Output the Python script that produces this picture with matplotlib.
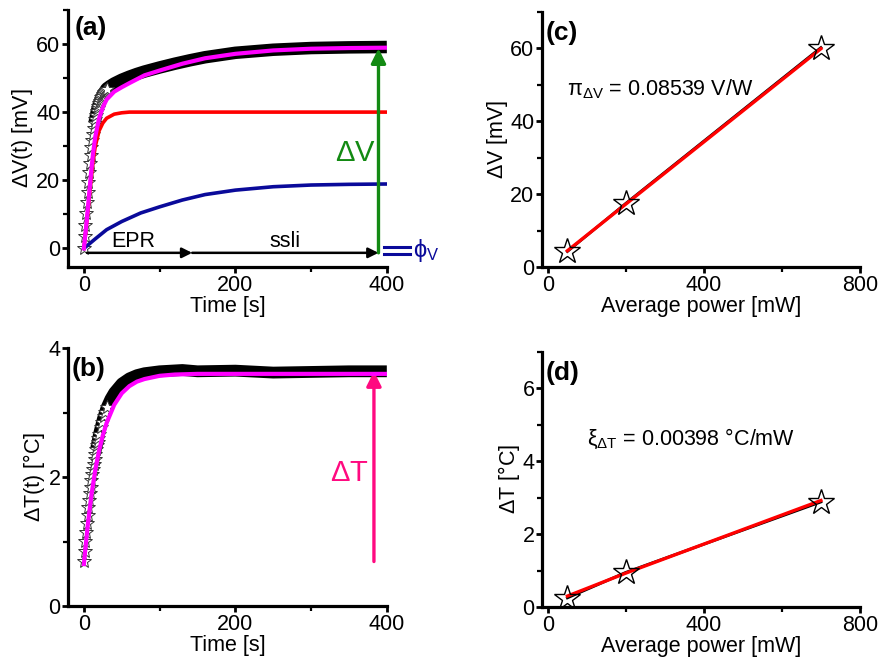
import matplotlib.pyplot as plt
from matplotlib.ticker import MultipleLocator

plt.rcParams['font.family'] = ['Liberation Sans', 'DejaVu Sans']
plt.rcParams['mathtext.fontset'] = 'custom'
plt.rcParams['mathtext.rm'] = 'Liberation Sans'
plt.rcParams['mathtext.it'] = 'Liberation Sans:italic'
plt.rcParams['mathtext.default'] = 'regular'

# (a) voltage transient: measured stars, dense band, fit and its two parts
a_star_t = [0, 1, 2, 3, 4, 5, 6, 7, 8, 9, 10, 11, 12, 13, 14, 15,
            16, 17, 18, 19, 20, 21, 22, 23, 24, 25, 26, 27, 28, 29, 30]
a_star_v = [0, 3.5, 7, 10.3, 13.5, 16.5, 19.5, 22.3, 25, 27.5, 29.8, 31.8,
            33.6, 35.2, 36.7, 38, 39.2, 40.2, 41.1, 41.9, 42.6, 43.2, 43.8,
            44.3, 44.8, 45.2, 45.6, 46.0, 46.3, 46.6, 46.9]
a_band_t = [14, 17, 20, 25, 30, 35, 40, 50, 60, 70, 80, 100, 120, 140, 160,
            200, 250, 300, 350, 400]
a_band_v = [36.7, 40.2, 42.6, 45.2, 46.9, 47.7, 48.4, 49.5, 50.4, 51.2,
            51.9, 53.1, 54.2, 55.2, 56.1, 57.4, 58.3, 58.8, 59.0, 59.1]
a_fit_t = [0, 3, 6, 9, 12, 15, 20, 25, 30, 40, 50, 60, 80, 100, 130, 160,
           200, 250, 300, 350, 400]
a_fit_v = [0, 6.6, 13.7, 21.2, 27.8, 32.8, 38.2, 41.4, 43.7, 46.0, 47.3,
           48.5, 50.8, 52.2, 54.2, 55.8, 57.1, 58.1, 58.6, 58.8, 58.9]
a_epr_t = [0, 3, 6, 9, 12, 15, 20, 25, 30, 40, 50, 60, 400]
a_epr_v = [0, 6, 12.5, 19.5, 25.5, 30, 34.5, 36.8, 38.2, 39.4, 39.8, 40, 40]
a_ssli_t = [0, 15, 30, 50, 75, 100, 130, 160, 200, 250, 300, 350, 400]
a_ssli_v = [0, 2.8, 5.5, 7.9, 10.4, 12.2, 14.2, 15.8, 17.1, 18.1, 18.6,
            18.8, 18.9]

# (b) temperature transient
b_star_t = [0, 1, 2, 3, 4, 5, 6, 7, 8, 9, 10, 11, 12, 13, 14, 15, 16, 17,
            18, 19, 20, 22, 24, 26, 28, 30]
b_star_v = [0.70, 0.86, 1.01, 1.15, 1.28, 1.41, 1.53, 1.64, 1.75, 1.85,
            1.95, 2.04, 2.13, 2.21, 2.28, 2.36, 2.43, 2.49, 2.55, 2.61,
            2.67, 2.77, 2.86, 2.94, 3.01, 3.08]
b_band_t = [16, 20, 25, 30, 35, 40, 50, 60, 70, 80, 100, 130, 150, 200,
            250, 300, 350, 400]
b_band_v = [2.43, 2.67, 2.90, 3.08, 3.21, 3.31, 3.45, 3.53, 3.58, 3.61,
            3.64, 3.66, 3.64, 3.65, 3.62, 3.63, 3.64, 3.64]
b_fit_t = [0, 5, 10, 15, 20, 25, 30, 40, 50, 60, 70, 80, 100, 120, 150,
           200, 400]
b_fit_v = [0.65, 1.25, 1.73, 2.11, 2.41, 2.65, 2.84, 3.12, 3.30, 3.41,
           3.48, 3.52, 3.57, 3.59, 3.60, 3.60, 3.60]

# (c), (d) power dependence
power = [50, 200, 700]
dv = [4.3, 17.5, 60.2]
dv_fit = [4.5, 17.3, 59.9]
dtemp = [0.25, 0.95, 2.88]
dtemp_fit = [0.3, 0.93, 2.92]


def style(ax, xmaj, xmin, ymaj, ymin):
    for s in ['top', 'right']:
        ax.spines[s].set_visible(False)
    for s in ['left', 'bottom']:
        ax.spines[s].set_linewidth(2.3)
    ax.xaxis.set_major_locator(MultipleLocator(xmaj))
    ax.xaxis.set_minor_locator(MultipleLocator(xmin))
    ax.yaxis.set_major_locator(MultipleLocator(ymaj))
    ax.yaxis.set_minor_locator(MultipleLocator(ymin))
    ax.tick_params(which='major', direction='out', length=4.5, width=2,
                   labelsize=15.5, pad=1)
    ax.tick_params(which='minor', direction='out', length=3.5, width=1.6)


def arrow(ax, tail, tip, color, lw, scale):
    ax.annotate('', xy=tip, xytext=tail, annotation_clip=False,
                arrowprops=dict(arrowstyle='-|>', color=color, lw=lw,
                                mutation_scale=scale, shrinkA=0, shrinkB=0))


fig = plt.figure(figsize=(8.88, 6.58), dpi=100)
ax_a = fig.add_axes([0.0766, 0.594, 0.359, 0.391])
ax_b = fig.add_axes([0.0766, 0.079, 0.359, 0.392])
ax_c = fig.add_axes([0.6104, 0.594, 0.358, 0.388])
ax_d = fig.add_axes([0.6104, 0.0775, 0.358, 0.388])

# ---- (a)
ax = ax_a
ax.plot(a_band_t, a_band_v, color='black', lw=9, solid_capstyle='butt', zorder=1)
ax.plot(a_star_t, a_star_v, ls='none', marker='*', ms=10, mfc='white',
        mec='#333333', mew=0.7, zorder=2)
ax.plot(a_epr_t, a_epr_v, color='#ff0000', lw=2.6, zorder=3)
ax.plot(a_ssli_t, a_ssli_v, color='#0a0a9a', lw=2.6, zorder=3)
ax.plot(a_fit_t, a_fit_v, color='#ff00ff', lw=3, zorder=4)
arrow(ax, (4, -1.3), (143, -1.3), 'black', 1.8, 15)
arrow(ax, (143, -1.3), (389, -1.3), 'black', 1.8, 15)
arrow(ax, (389, -1.3), (389, 58.7), '#138a13', 2.4, 22)
ax.text(65, 0.5, 'EPR', fontsize=15.5, ha='center', va='baseline')
ax.text(266, 0.5, 'ssli', fontsize=15.5, ha='center', va='baseline')
ax.text(359, 28, r'$\Delta$V', fontsize=21, color='#138a13', ha='center', va='center')
ax.plot([396, 431], [0.4, 0.4], color='#0a0a9a', lw=2.2, clip_on=False)
ax.plot([396, 431], [-1.6, -1.6], color='#0a0a9a', lw=2.2, clip_on=False)
ax.text(435, -0.6, r'$\phi_V$', fontsize=17, color='#0a0a9a', ha='left',
        va='center', clip_on=False)
ax.set_xlim(-21, 400)
ax.set_ylim(-5.5, 70)
style(ax, 200, 100, 20, 10)
ax.set_xlabel('Time [s]', fontsize=15.5, labelpad=0)
ax.set_ylabel(r'$\Delta$V(t) [mV]', fontsize=15.5, labelpad=1)
ax.text(0.022, 0.975, '(a)', transform=ax.transAxes, fontsize=19,
        fontweight='bold', ha='left', va='top')

# ---- (b)
ax = ax_b
ax.plot(b_band_t, b_band_v, color='black', lw=8.5, solid_capstyle='butt', zorder=1)
ax.plot(b_star_t, b_star_v, ls='none', marker='*', ms=10, mfc='white',
        mec='#333333', mew=0.7, zorder=2)
ax.plot(b_fit_t, b_fit_v, color='#ff00ff', lw=3, zorder=4)
arrow(ax, (383, 0.69), (383, 3.64), '#ff0a80', 2.4, 22)
ax.text(350, 2.06, r'$\Delta$T', fontsize=21, color='#ff0a80', ha='center', va='center')
ax.set_xlim(-21, 400)
ax.set_ylim(0, 4)
style(ax, 200, 100, 2, 1)
ax.set_xlabel('Time [s]', fontsize=15.5, labelpad=0)
ax.set_ylabel(r'$\Delta$T(t) [°C]', fontsize=15.5, labelpad=1)
ax.text(0.012, 0.965, '(b)', transform=ax.transAxes, fontsize=19,
        fontweight='bold', ha='left', va='top')

# ---- (c)
ax = ax_c
ax.plot(power, dv, color='black', lw=2, zorder=1)
ax.plot(power, dv_fit, color='#ff0000', lw=2.4, zorder=2)
ax.plot(power, dv, ls='none', marker='*', ms=19, mfc='none', mec='black',
        mew=1, zorder=3)
ax.text(49, 47.1, r'$\pi_{\Delta V}$ = 0.08539 V/W', fontsize=15.5,
        ha='left', va='baseline')
ax.set_xlim(-15, 800)
ax.set_ylim(0, 70)
style(ax, 400, 200, 20, 10)
ax.set_xlabel('Average power [mW]', fontsize=15.5, labelpad=0)
ax.set_ylabel(r'$\Delta$V [mV]', fontsize=15.5, labelpad=0)
ax.text(0.01, 0.965, '(c)', transform=ax.transAxes, fontsize=19,
        fontweight='bold', ha='left', va='top')

# ---- (d)
ax = ax_d
ax.plot(power, dtemp, color='black', lw=2, zorder=1)
ax.plot(power, dtemp_fit, color='#ff0000', lw=2.4, zorder=2)
ax.plot(power, dtemp, ls='none', marker='*', ms=19, mfc='none', mec='black',
        mew=1, zorder=3)
ax.text(100, 4.43, r'$\xi_{\Delta T}$ = 0.00398 °C/mW', fontsize=15.5,
        ha='left', va='baseline')
ax.set_xlim(-15, 800)
ax.set_ylim(0, 7)
style(ax, 400, 200, 2, 1)
ax.set_xlabel('Average power [mW]', fontsize=15.5, labelpad=0)
ax.set_ylabel(r'$\Delta$T [°C]', fontsize=15.5, labelpad=0)
ax.text(0.01, 0.965, '(d)', transform=ax.transAxes, fontsize=19,
        fontweight='bold', ha='left', va='top')

fig.savefig('out.png', dpi=100)
